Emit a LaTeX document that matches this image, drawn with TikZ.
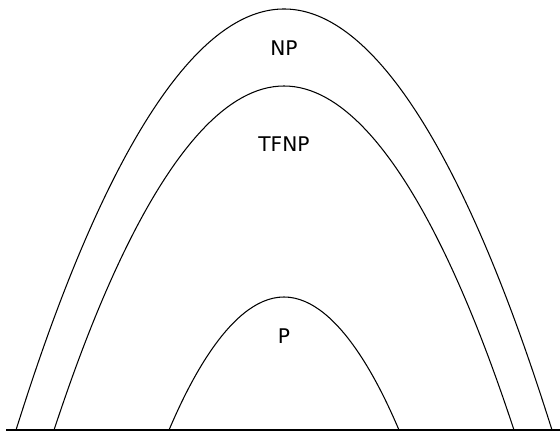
\documentclass[tikz,border=0pt]{standalone}
\usepackage{fontspec}
\setmainfont{DejaVu Sans}
\usetikzlibrary{positioning}

\begin{document}
\begin{tikzpicture}[
  x=0.02cm, y=-0.02cm,
  arch/.style={line width=0.6pt},
  class/.style={font=\fontsize{11.5}{13}\selectfont, inner sep=0pt}
]
\useasboundingbox (0,0) rectangle (560,431);
% ground line and the three nested arches
\coordinate (gl) at (6,430);
\coordinate (gr) at (560,430);
\draw[arch] (gl) -- (gr);
\draw[arch] (16,430) parabola bend (284,9) (552,430);
\draw[arch] (54,430) parabola bend (284,86) (514,430);
\draw[arch] (169,430) parabola bend (284,297) (399,430);
\node[class] (np) at (284,48.5) {NP};
\node[class] (tfnp) at (284,143.7) {TFNP};
\node[class] (p) at (284,336) {P};
\end{tikzpicture}
\end{document}
